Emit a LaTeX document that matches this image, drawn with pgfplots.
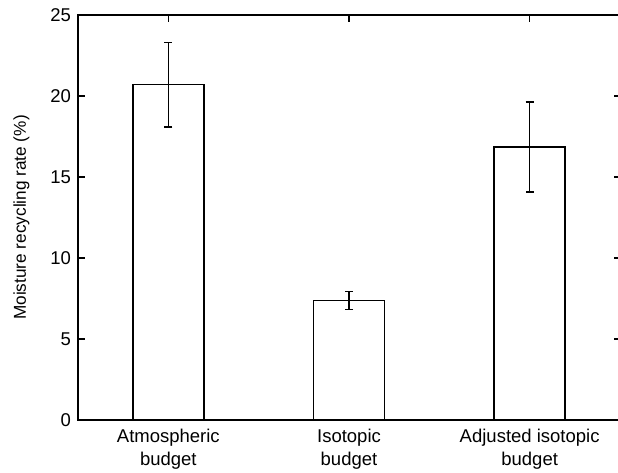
\documentclass[border=0pt]{standalone}
\usepackage{fontspec}
\setmainfont{Liberation Sans}
\usepackage{pgfplots}
\pgfplotsset{compat=1.18}
\begin{document}
\fontsize{17.5}{21}\selectfont
\begin{tikzpicture}
\begin{axis}[
  name=ax,
  scale only axis, width=542pt, height=405pt,
  xmin=-0.5, xmax=2.5, ymin=0, ymax=25,
  ybar, bar width=71pt,
  xtick={0,1,2},
  xticklabels={{Atmospheric\\budget},{Isotopic\\budget},{Adjusted isotopic\\budget}},
  xticklabel style={align=center, font=\fontsize{18.5}{22.4}\selectfont, yshift=-3.5pt},
  yticklabel style={font=\fontsize{18.5}{21}\selectfont, xshift=-1pt},
  ytick={0,5,10,15,20,25},
  tick align=inside, major tick length=6.5pt,
  axis line style={line width=1.6pt},
  every tick/.style={line width=1.6pt, black},
  ylabel={Moisture recycling rate (\%)},
  ylabel style={font=\fontsize{17.2}{21}\selectfont},
  ylabel shift=9pt,
  /pgf/number format/assume math mode=true,
]
\addplot[fill=white, draw=black, line width=1.6pt,
  error bars/.cd, y dir=both, y explicit,
  error bar style={line width=1.6pt, black},
  error mark options={rotate=90, mark size=4pt, line width=1.6pt, black}]
  coordinates {(0,20.7) +- (0,2.6) (1,7.37) +- (0,0.55) (2,16.85) +- (0,2.78)};
\end{axis}
\pgfresetboundingbox
\path ([xshift=-78pt, yshift=-52pt]ax.south west) rectangle ([xshift=-2pt, yshift=15pt]ax.north east);
\end{tikzpicture}
\end{document}
